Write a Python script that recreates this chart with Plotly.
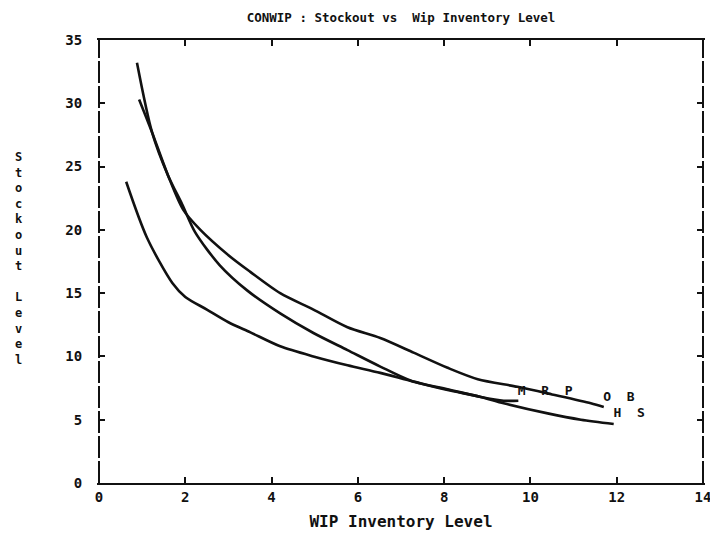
import plotly.graph_objects as go

# WIP inventory level vs. stockout level for three control policies
mrp_x = [0.88, 1.23, 1.60, 1.93, 2.23, 2.80, 3.44, 4.20, 4.97, 5.76, 6.52, 7.22, 8.15, 8.85, 9.38, 9.72]
mrp_y = [33.2, 27.7, 24.3, 22.0, 19.8, 17.2, 15.2, 13.4, 11.85, 10.5, 9.2, 8.1, 7.35, 6.8, 6.5, 6.5]

ob_x = [0.93, 1.23, 1.60, 1.95, 2.35, 3.00, 3.50, 4.20, 4.97, 5.76, 6.52, 7.29, 8.08, 8.78, 9.70, 10.5, 11.4, 11.7]
ob_y = [30.3, 27.7, 24.3, 21.6, 20.0, 18.0, 16.7, 15.0, 13.7, 12.3, 11.45, 10.3, 9.1, 8.2, 7.6, 7.0, 6.3, 6.0]

hs_x = [0.63, 1.11, 1.70, 2.00, 2.50, 3.00, 3.51, 4.20, 4.97, 5.76, 6.52, 7.29, 8.08, 8.85, 9.38, 10.4, 11.17, 11.93]
hs_y = [23.8, 19.4, 15.8, 14.7, 13.7, 12.7, 11.9, 10.8, 10.0, 9.3, 8.7, 8.0, 7.35, 6.8, 6.3, 5.5, 5.0, 4.66]

# curve labels placed next to the line ends
label_text = ["M  R  P", "O  B", "H  S"]
label_x = [10.34, 12.05, 12.29]
label_y = [7.2, 6.7, 5.45]

x_ticks = [0, 2, 4, 6, 8, 10, 12, 14]
y_ticks = [0, 5, 10, 15, 20, 25, 30, 35]

FONT = "DejaVu Sans Mono"
INK = "#111111"

fig = go.Figure()
for xs, ys in [(mrp_x, mrp_y), (ob_x, ob_y), (hs_x, hs_y)]:
    fig.add_trace(go.Scatter(
        x=xs, y=ys, mode="lines",
        line=dict(color=INK, width=2.6, shape="spline", smoothing=0.8),
        showlegend=False, hoverinfo="skip",
    ))

fig.add_trace(go.Scatter(
    x=label_x, y=label_y, mode="text", text=label_text,
    textfont=dict(family=FONT, size=13, color=INK, weight="bold"),
    textposition="middle center", showlegend=False, hoverinfo="skip",
))

tick_common = dict(
    showgrid=False, zeroline=False, automargin=False,
    ticklabeloverflow="allow",
    ticks="inside", ticklen=6, tickwidth=2, tickcolor=INK,
    tickfont=dict(family=FONT, size=14, color=INK, weight="bold"),
)

fig.update_layout(
    width=710, height=542,
    margin=dict(l=99, r=7, t=40, b=59),
    paper_bgcolor="white", plot_bgcolor="white",
    title=dict(
        text="CONWIP : Stockout vs  Wip Inventory Level",
        x=401 / 710, xanchor="center", y=1 - 18 / 542, yanchor="middle",
        font=dict(family=FONT, size=12.5, color=INK, weight="bold"),
    ),
    xaxis=dict(
        range=[0, 14], tickvals=x_ticks, ticktext=[str(v) for v in x_ticks],
        showline=True, linecolor=INK, linewidth=2, mirror="ticks",
        title=dict(text="WIP Inventory Level", standoff=12,
                   font=dict(family=FONT, size=16, color=INK, weight="bold")),
        **tick_common,
    ),
    yaxis=dict(
        range=[0, 35], tickvals=y_ticks, ticktext=[str(v) for v in y_ticks],
        showline=True, linecolor="rgba(0,0,0,0)", linewidth=2, mirror="ticks",
        ticklabelstandoff=12,
        **tick_common,
    ),
)

# broken vertical frame lines on both sides of the plot area
for xp in (0, 1):
    fig.add_shape(
        type="line", xref="paper", yref="paper", x0=xp, x1=xp, y0=0, y1=1,
        line=dict(color=INK, width=2, dash="22px,3px"), layer="above",
    )

# vertical axis caption, letters stacked top to bottom
fig.add_annotation(
    text="<br>".join(list("Stockout Level")),
    xref="paper", yref="paper", x=-80 / 603, y=1 - 108 / 443,
    xanchor="center", yanchor="top", showarrow=False,
    font=dict(family=FONT, size=12, color=INK, weight="bold"),
)

fig.write_html("out.html")
